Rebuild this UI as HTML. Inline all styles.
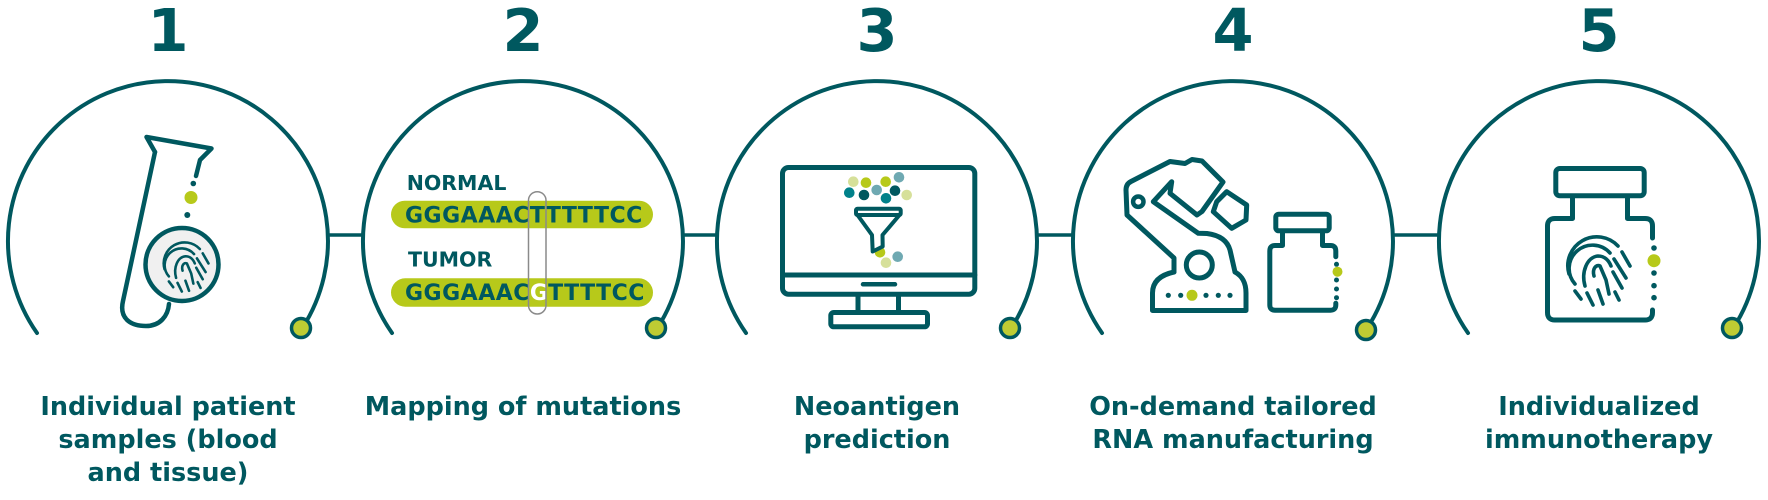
<!DOCTYPE html>
<html>
<head>
<meta charset="utf-8">
<style>
  html,body{margin:0;padding:0;background:#fff;}
  svg{display:block;}
  .num{font-family:"DejaVu Sans","Liberation Sans",sans-serif;font-weight:bold;font-size:59px;fill:#00585f;}
  .lbl{font-family:"DejaVu Sans","Liberation Sans",sans-serif;font-weight:bold;font-size:25.5px;fill:#00585f;}
  .seq{font-family:"DejaVu Sans","Liberation Sans",sans-serif;font-weight:bold;}
</style>
</head>
<body>
<svg width="1768" height="500" viewBox="0 0 1768 500" xmlns="http://www.w3.org/2000/svg">
  <defs>
    <g id="fp" fill="none" stroke="#00585f" stroke-width="3.6" stroke-linecap="round" stroke-linejoin="round">
      <path d="M-27,10 A29,29 0 0 1 22,-18"/>
      <path d="M26,-12 L34,2"/>
      <path d="M-21,20 A20,20 0 0 1 14,-11"/>
      <path d="M18,-5 L30,14"/>
      <path d="M-11,22 C-15,8 -9,-7 2,-8 C9,-8 13,-3 15,2"/>
      <path d="M17,8 L26,24"/>
      <path d="M-2,12 C-4,5 0,0 4,2 L10,16 L13,30"/>
      <path d="M-21,27 L-15,35"/>
      <path d="M-9,29 L-3,41"/>
      <path d="M2,26 L7,40"/>
      <path d="M19,28 L23,36"/>
    </g>
  </defs>

  <!-- Numbers -->
  <text class="num" x="168" y="51" text-anchor="middle">1</text>
  <text class="num" x="523" y="51" text-anchor="middle">2</text>
  <text class="num" x="877" y="51" text-anchor="middle">3</text>
  <text class="num" x="1233" y="51" text-anchor="middle">4</text>
  <text class="num" x="1599" y="51" text-anchor="middle">5</text>

  <!-- Connectors -->
  <g stroke="#00585f" stroke-width="3.5">
    <line x1="328" y1="235" x2="363" y2="235"/>
    <line x1="683" y1="235" x2="717" y2="235"/>
    <line x1="1037" y1="235" x2="1073" y2="235"/>
    <line x1="1393" y1="235" x2="1439" y2="235"/>
  </g>

  <!-- Arcs -->
  <g fill="none" stroke="#00585f" stroke-width="4" stroke-linecap="round">
    <path d="M37,333 A160,160 0 1 1 302.3,328"/>
    <path d="M392,333 A160,160 0 1 1 657.3,328"/>
    <path d="M746,333 A160,160 0 1 1 1011.3,328"/>
    <path d="M1102,333 A160,160 0 1 1 1367.3,328"/>
    <path d="M1468,333 A160,160 0 1 1 1733.3,328"/>
  </g>
  <g fill="#bfcc33" stroke="#00585f" stroke-width="3.5">
    <circle cx="301" cy="328" r="9.5"/>
    <circle cx="656" cy="328" r="9.5"/>
    <circle cx="1010" cy="328" r="9.5"/>
    <circle cx="1366" cy="330" r="9.5"/>
    <circle cx="1732" cy="328" r="9.5"/>
  </g>

  <!-- Icon 1: test tube + fingerprint -->
  <g fill="none" stroke="#00585f" stroke-width="4.5" stroke-linecap="round" stroke-linejoin="round">
    <path d="M155,152 L146.5,137 L211.5,148.5 L200,160 L196,176"/>
    <path d="M155,152 L123,301 C119,318 130,326 146,326 C160,326 168,316 169,304"/>
  </g>
  <circle cx="193.3" cy="183.5" r="2.8" fill="#00585f"/>
  <circle cx="191" cy="197.5" r="6.5" fill="#b7c91a"/>
  <circle cx="187.3" cy="215" r="3" fill="#00585f"/>
  <circle cx="182" cy="264.5" r="36.5" fill="#f0f0f0" stroke="#00585f" stroke-width="4.5"/>
  <use href="#fp" transform="translate(184,262) scale(0.72)"/>

  <!-- Icon 2: sequences -->
  <text class="seq" x="406.7" y="190" font-size="20.5" fill="#00585f">NORMAL</text>
  <rect x="391" y="200.7" width="262" height="27.6" rx="13.8" fill="#b7c91a"/>
  <text class="seq" x="405" y="222.7" font-size="22" letter-spacing="0.5" fill="#00585f">GGGAAACTTTTTCC</text>
  <text class="seq" x="408" y="266.7" font-size="20.5" fill="#00585f">TUMOR</text>
  <rect x="391" y="278.3" width="262" height="28.4" rx="14.2" fill="#b7c91a"/>
  <text class="seq" x="405" y="300" font-size="22" letter-spacing="0.5" fill="#00585f">GGGAAAC<tspan fill="#ffffff">G</tspan>TTTTCC</text>
  <rect x="528.5" y="191.7" width="17.5" height="122.3" rx="8.7" fill="none" stroke="#8a8a8a" stroke-width="1.5"/>

  <!-- Icon 3: monitor -->
  <g fill="none" stroke="#00585f" stroke-width="5" stroke-linecap="round" stroke-linejoin="round">
    <rect x="782.5" y="167.5" width="192.3" height="126.7" rx="6"/>
    <line x1="782.5" y1="275" x2="974.8" y2="275"/>
    <line x1="863" y1="284.3" x2="895" y2="284.3" stroke-width="4.5"/>
    <line x1="858" y1="296.7" x2="858" y2="311"/>
    <line x1="898.5" y1="296.7" x2="898.5" y2="311"/>
    <rect x="830.8" y="312.5" width="96.7" height="14.3" rx="3"/>
  </g>
  <g fill="#d6e09a"><circle cx="853.3" cy="181.7" r="5.3"/><circle cx="906.7" cy="195" r="5.3"/><circle cx="886" cy="262.7" r="5.3"/></g>
  <g fill="#b7c91a"><circle cx="866" cy="182.7" r="5.3"/><circle cx="885.7" cy="181.7" r="5.3"/><circle cx="880" cy="252.3" r="5.3"/></g>
  <g fill="#6fa9b2"><circle cx="899" cy="177.3" r="5.3"/><circle cx="876.7" cy="190" r="5.3"/><circle cx="897.7" cy="256.7" r="5.3"/></g>
  <g fill="#00818a"><circle cx="849.3" cy="192.7" r="5.3"/><circle cx="886" cy="198.3" r="5.3"/></g>
  <g fill="#00585f"><circle cx="864" cy="195" r="5.3"/><circle cx="895" cy="190.7" r="5.3"/></g>
  <g fill="#ffffff" stroke="#00585f" stroke-width="4" stroke-linejoin="round">
    <path d="M857.5,215 L872,235 L872.7,251.5 L882.7,246.5 L882.5,235 L899.5,215 Z"/>
    <rect x="856" y="208.7" width="44.7" height="6.3" rx="1.5"/>
  </g>

  <!-- Icon 4: robot arm + jar -->
  <g fill="none" stroke="#00585f" stroke-width="5" stroke-linecap="round" stroke-linejoin="round">
    <path d="M1174,272 C1160,275 1152.5,282 1152.5,293 L1152.5,310.5 L1246,310.5 L1246,293 C1246,282 1242,276 1235,272"/>
    <path d="M1174,272 L1174,258 L1127,215 L1126,190 Q1126,184 1131,181.5 L1170,161.5 L1185,163.5 L1192,159.5 L1202,161 L1223,182 L1202,211.5 L1197,215 L1170,193.3 L1171.7,181.7 L1153.3,201.7 L1198.3,233.3 L1207,233.5 Q1226,236 1230,250 L1235,272"/>
    <path d="M1216.7,201.7 L1226.7,191.7 L1246.7,205 L1246,220 L1231.7,228.3 L1213.3,211.7 Z"/>
    <circle cx="1138.3" cy="201.7" r="5.2" stroke-width="4.5"/>
    <circle cx="1199.3" cy="265" r="13"/>
    <rect x="1275.8" y="214.2" width="53.4" height="16.6" rx="3"/>
    <path d="M1282.5,231 L1282.5,245.5 L1275,245.5 Q1269.8,245.5 1269.8,251 L1269.8,305 Q1269.8,310.2 1275,310.2 L1330.5,310.2 Q1335.8,310.2 1335.8,305 L1335.8,303.3"/>
    <path d="M1322.5,231 L1322.5,245.5 L1330.5,245.5 Q1335.8,245.5 1335.8,251 L1335.8,256.7"/>
  </g>
  <g fill="#00585f">
    <circle cx="1168.3" cy="295.3" r="2.6"/><circle cx="1180.7" cy="295.3" r="2.6"/>
    <circle cx="1206" cy="295.3" r="2.6"/><circle cx="1218.3" cy="295.3" r="2.6"/><circle cx="1230" cy="295.3" r="2.6"/>
    <circle cx="1336.5" cy="264.3" r="2.5"/><circle cx="1336.5" cy="280" r="2.5"/><circle cx="1336.5" cy="289" r="2.5"/><circle cx="1336.5" cy="297.7" r="2.5"/>
  </g>
  <circle cx="1192" cy="295.3" r="5.5" fill="#b7c91a"/>
  <circle cx="1337.5" cy="271.7" r="5" fill="#b7c91a"/>

  <!-- Icon 5: jar with fingerprint -->
  <g fill="none" stroke="#00585f" stroke-width="5" stroke-linecap="round" stroke-linejoin="round">
    <rect x="1555.8" y="168.5" width="88.4" height="27.3" rx="4"/>
    <path d="M1572.5,196 L1572.5,218.5 L1555,218.5 Q1547.5,218.5 1547.5,226 L1547.5,312.5 Q1547.5,320 1555,320 L1645,320 Q1652.5,320 1652.5,312.5 L1652.5,310"/>
    <path d="M1627.5,196 L1627.5,218.5 L1645,218.5 Q1652.5,218.5 1652.5,226 L1652.5,238"/>
  </g>
  <g fill="#00585f">
    <circle cx="1654" cy="248" r="2.8"/><circle cx="1654" cy="273" r="2.8"/>
    <circle cx="1654" cy="285.7" r="2.8"/><circle cx="1654" cy="297.7" r="2.8"/>
  </g>
  <circle cx="1654" cy="260.7" r="6.5" fill="#b7c91a"/>
  <use href="#fp" transform="translate(1596,264)"/>

  <!-- Labels -->
  <g class="lbl" text-anchor="middle">
    <text x="168" y="415">Individual patient</text>
    <text x="168" y="448">samples (blood</text>
    <text x="168" y="481">and tissue)</text>
    <text x="523" y="415">Mapping of mutations</text>
    <text x="877" y="415">Neoantigen</text>
    <text x="877" y="448">prediction</text>
    <text x="1233" y="415">On-demand tailored</text>
    <text x="1233" y="448">RNA manufacturing</text>
    <text x="1599" y="415">Individualized</text>
    <text x="1599" y="448">immunotherapy</text>
  </g>
</svg>
</body>
</html>
